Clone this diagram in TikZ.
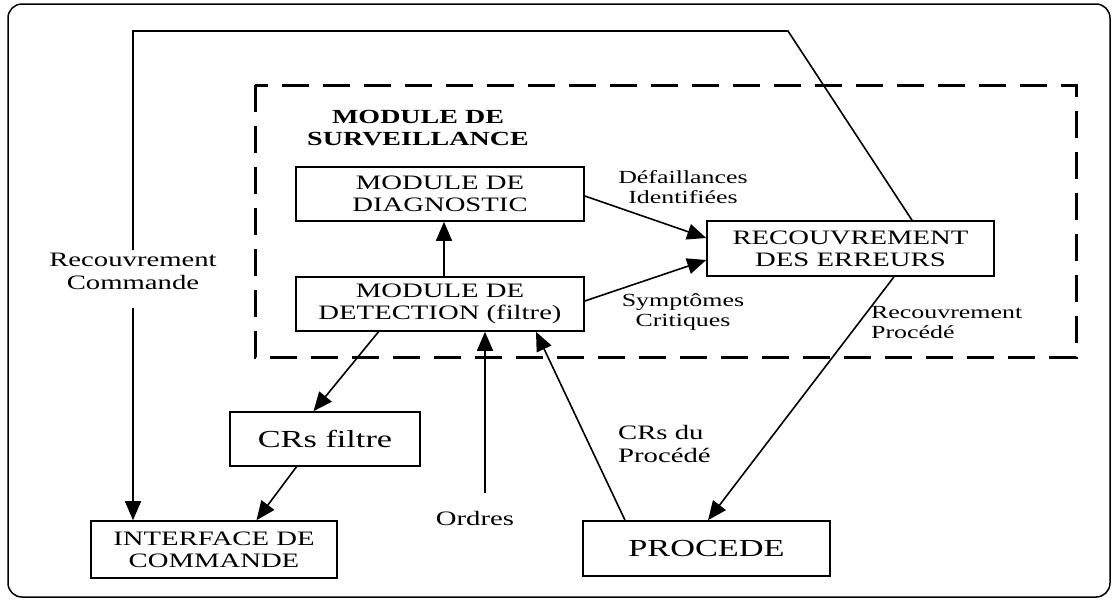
\documentclass[tikz,border=0pt]{standalone}
\usepackage{fontspec}
\setmainfont{Liberation Serif}[FakeStretch=1.4]
\usetikzlibrary{arrows.meta}
\tikzset{
  box/.style={draw, line width=1.6pt, inner sep=0pt, align=center, font=\fontsize{20.5}{22}\selectfont},
  bigbox/.style={box, font=\fontsize{24.5}{26}\selectfont},
  lbl/.style={inner sep=0pt, align=center, font=\fontsize{20.5}{22.5}\selectfont},
  slbl/.style={inner sep=0pt, align=center, font=\fontsize{18.5}{20}\selectfont},
  arr/.style={line width=1.6pt, -{Triangle[length=19pt,width=16pt]}},
  ln/.style={line width=1.6pt},
  dashbox/.style={line width=3pt, dash pattern=on 27pt off 14pt},
}
\begin{document}
\begin{tikzpicture}[x=1pt,y=-1pt]
\useasboundingbox (0,0) rectangle (1112,600);
% outer frame
\draw[line width=1.5pt, rounded corners=14pt] (8,4) rectangle (1110,597);
% dashed module
\draw[dashbox] (255,85) rectangle (1076,357);
\node[font=\bfseries\fontsize{20}{22}\selectfont, align=center, inner sep=0pt] (title) at (418,128) {MODULE DE\\SURVEILLANCE};
% boxes
\node[box, minimum width=288pt, minimum height=54pt] (diag) at (440,194) {MODULE DE\\DIAGNOSTIC};
\node[box, minimum width=288pt, minimum height=54pt] (detect) at (440,304) {MODULE DE\\DETECTION (filtre)};
\node[box, minimum width=287pt, minimum height=55pt] (recov) at (850.5,248.5) {RECOUVREMENT\\DES ERREURS};
\node[bigbox, minimum width=190pt, minimum height=54pt] (crsf) at (325,439) {CRs filtre};
\node[box, minimum width=246pt, minimum height=57pt] (iface) at (214,549.5) {INTERFACE DE\\COMMANDE};
\node[bigbox, minimum width=247pt, minimum height=55pt] (proc) at (706.5,548.5) {PROCEDE};
% labels
\node[slbl] (ldef) at (683,187) {Défaillances\\Identifiées};
\node[slbl] (lsym) at (683,312) {Symptômes\\Critiques};
\node[slbl, align=left, anchor=west] (lrp) at (871,323) {Recouvrement\\Procédé};
\node[lbl, align=left, anchor=west] (lcrp) at (618,444) {CRs du\\Procédé};
\node[lbl] (lrc) at (133,271.5) {Recouvrement\\Commande};
\node[lbl] (lord) at (475,518) {Ordres};
% coordinates
\coordinate (ordres) at (485,493);
\coordinate (c1) at (788,31);
\coordinate (c2) at (133,31);
\coordinate (c3) at (133,250);
\coordinate (c4) at (133,308);
% connectors
\draw[arr] ([xshift=4pt]detect.north) -- ([xshift=4pt]diag.south);
\draw[arr] ([yshift=-2pt]diag.east) -- ([yshift=10.5pt]recov.west);
\draw[arr] ([yshift=3pt]detect.east) -- ([yshift=-11.5pt]recov.west);
\draw[arr] ([xshift=43.5pt]recov.south) -- ([xshift=1.5pt]proc.north);
\draw[arr] ([xshift=-81.5pt]proc.north) -- ([xshift=96pt]detect.south);
\draw[arr] (ordres) -- (detect.south -| ordres);
\draw[arr] ([xshift=-61.5pt]detect.south) -- ([xshift=-11.5pt]crsf.north);
\draw[arr] ([xshift=-28.5pt]crsf.south) -- ([xshift=42.5pt]iface.north);
\draw[ln] ([xshift=61.5pt]recov.north) -- (c1) -- (c2) -- (c3);
\draw[arr] (c4) -- (iface.north -| c4);
\end{tikzpicture}
\end{document}
